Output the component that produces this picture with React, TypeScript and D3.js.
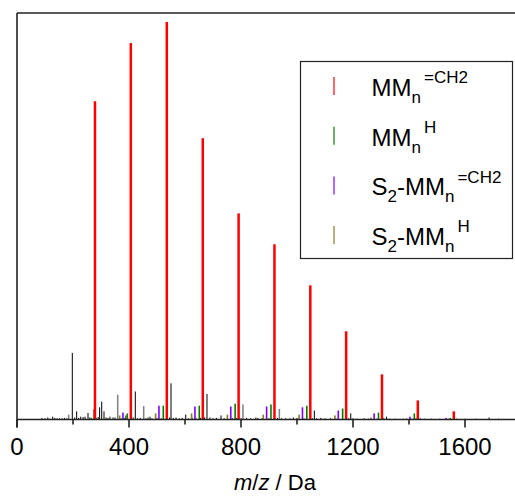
import React from "react";
import * as d3 from "d3";

// Peak series: m/z (Da) and relative intensity (%)
const mmCH2Mz = [278.5, 406.5, 535, 663.5, 791.5, 919.5, 1047.5, 1175.5, 1303.5, 1431.5, 1560];
const mmCH2Int = [78.3, 92.6, 97.8, 69.2, 50.7, 43.1, 33.0, 21.7, 11.1, 4.7, 2.0];

const mmHMz = [266, 394, 522.5, 651, 779, 907, 1035, 1163, 1291, 1419, 1547.5];
const mmHInt = [0.4, 1.5, 3.4, 3.4, 3.9, 3.7, 3.4, 2.7, 1.7, 1.5, 0.4];

const s2CH2Mz = [378.5, 507, 635.5, 763.5, 891.5, 1019.5, 1147.5, 1275.5, 1403.5, 1532];
const s2CH2Int = [1.7, 3.4, 3.2, 3.2, 3.2, 3.0, 2.2, 1.5, 0.7, 0.4];

const s2HMz = [366.5, 495, 623.5, 751.5, 879.5, 1007.5, 1135.5, 1263.5, 1391.5];
const s2HInt = [1.0, 1.5, 1.5, 1.2, 1.2, 1.2, 1.0, 0.5, 0.25];

// Unassigned peaks (black)
const otherMz = [89, 110, 127.5, 143, 161, 197.5, 213, 227.5, 243, 253.6, 295, 302.5, 310.7, 332, 343, 389, 422.5, 475, 550, 568, 602.5, 625, 678.5, 689, 728.6, 853, 987, 1062, 1192, 1320, 1440, 1686];
const otherInt = [0.4, 0.5, 0.7, 0.3, 0.3, 16.4, 2.0, 0.7, 0.7, 1.6, 3.0, 4.4, 2.0, 0.7, 0.5, 1.0, 6.9, 0.7, 8.9, 0.5, 1.2, 0.5, 6.3, 0.5, 1.0, 0.5, 0.5, 2.2, 1.5, 0.7, 0.3, 0.5];

// Unassigned peaks (grey)
const greyMz = [184.6, 274, 359.6, 452.5, 807, 937];
const greyInt = [1.2, 2.5, 6.1, 3.3, 3.7, 2.6];

// Baseline noise
const noiseMz = [100, 118, 135, 152, 170, 178, 206, 220, 236, 260, 283, 290, 318, 325, 350, 372, 385, 415, 430, 440, 460, 468, 482, 500, 515, 545, 558, 580, 590, 612, 640, 655, 670, 700, 712, 740, 770, 785, 800, 820, 835, 860, 875, 900, 930, 945, 960, 975, 1000, 1025, 1055, 1070, 1085, 1100, 1120, 1140, 1185, 1200, 1215, 1240, 1255, 1285, 1310, 1330, 1350, 1380, 1410, 1425, 1455, 1480, 1510, 1540, 1570, 1600, 1640, 1720];
const noiseInt = [0.3, 0.2, 0.4, 0.3, 0.4, 0.3, 0.5, 0.4, 0.6, 0.5, 0.4, 0.6, 0.5, 0.4, 0.5, 0.3, 0.4, 0.5, 0.3, 0.4, 0.3, 0.5, 0.3, 0.4, 0.3, 0.5, 0.4, 0.3, 0.4, 0.3, 0.3, 0.4, 0.5, 0.3, 0.4, 0.3, 0.3, 0.4, 0.3, 0.4, 0.3, 0.4, 0.3, 0.3, 0.4, 0.3, 0.3, 0.3, 0.4, 0.3, 0.3, 0.3, 0.4, 0.3, 0.3, 0.2, 0.3, 0.3, 0.2, 0.3, 0.2, 0.2, 0.3, 0.2, 0.2, 0.2, 0.2, 0.3, 0.2, 0.2, 0.2, 0.2, 0.2, 0.2, 0.2, 0.2];

const xTicks = [0, 400, 800, 1200, 1600];
const xMinorTicks = [200, 600, 1000, 1400, 1800];

type Part = { t?: string; s?: string };
const legendColors = ["#ff0000", "#008000", "#8000ff", "#808020"];
const legendPre: Part[][] = [
  [{ t: "MM" }],
  [{ t: "MM" }],
  [{ t: "S" }, { s: "2" }, { t: "-MM" }],
  [{ t: "S" }, { s: "2" }, { t: "-MM" }],
];
const legendSub = ["n", "n", "n", "n"];
const legendSup = ["=CH2", "H", "=CH2", "H"];

const W = 515;
const H = 497;
const left = 17;
const top = 13;
const bottom = 419.5;

export default function App() {
  const x = d3.scaleLinear().domain([0, 1800]).range([left, left + 1800 * 0.28]);
  const y = d3.scaleLinear().domain([0, 100]).range([bottom, top]);
  const font = "Liberation Sans, Arial, sans-serif";

  const peaks = (mz: number[], ints: number[], color: string, w: number, key: string) =>
    mz.map((m, i) => (
      <rect
        key={key + i}
        x={x(m) - w / 2}
        y={y(ints[i])}
        width={w}
        height={bottom - y(ints[i])}
        fill={color}
      />
    ));

  const renderPre = (parts: Part[]) => {
    const out: React.ReactNode[] = [];
    parts.forEach((p, j) => {
      if (p.t !== undefined) {
        const prevSub = j > 0 && parts[j - 1].s !== undefined;
        out.push(
          <tspan key={j} fontSize={24} dy={prevSub ? -7 : 0}>
            {p.t}
          </tspan>
        );
      } else {
        out.push(
          <tspan key={j} fontSize={17} dy={7}>
            {p.s}
          </tspan>
        );
      }
    });
    return out;
  };

  return (
    <svg width={W} height={H} style={{ position: "absolute", left: 0, top: 0, background: "#fff" }} fontFamily={font}>
      {peaks(noiseMz, noiseInt, "#000", 1, "n")}
      {peaks(greyMz, greyInt, "#808080", 1.5, "g")}
      {peaks(otherMz, otherInt, "#000", 1, "o")}
      {peaks(s2HMz, s2HInt, "#808020", 1.6, "sh")}
      {peaks(s2CH2Mz, s2CH2Int, "#8000ff", 1.6, "sc")}
      {peaks(mmHMz, mmHInt, "#008000", 1.6, "mh")}
      {peaks(mmCH2Mz, mmCH2Int, "#ff0000", 2.5, "mc")}

      {/* frame */}
      <line x1={left} x2={W} y1={top} y2={top} stroke="#222" strokeWidth={1.6} />
      <line x1={left} x2={left} y1={top} y2={bottom + 8} stroke="#222" strokeWidth={1.6} />
      <line x1={left} x2={W} y1={bottom} y2={bottom} stroke="#222" strokeWidth={1.6} />
      {xTicks.map((t) => (
        <g key={"t" + t}>
          <line x1={x(t)} x2={x(t)} y1={bottom} y2={bottom + 8} stroke="#222" strokeWidth={1.6} />
          <text x={x(t)} y={455} fontSize={24} textAnchor="middle" fill="#000">
            {t}
          </text>
        </g>
      ))}
      {xMinorTicks.map((t) => (
        <line key={"m" + t} x1={x(t)} x2={x(t)} y1={bottom} y2={bottom + 5} stroke="#222" strokeWidth={1.6} />
      ))}
      <text x={275} y={490} fontSize={22} textAnchor="middle" fill="#000">
        <tspan fontStyle="italic">m</tspan>/<tspan fontStyle="italic">z</tspan> / Da
      </text>

      {/* legend */}
      <rect x={300.5} y={61.5} width={212} height={197} fill="#fff" stroke="#222" strokeWidth={1.2} />
      {legendColors.map((c, i) => {
        const base = 96 + i * 49.7;
        return (
          <g key={"l" + i}>
            <line x1={334} x2={334} y1={base - 19} y2={base - 1} stroke={c} strokeWidth={1.2} />
            <text x={371.5} y={base} fontSize={24} fill="#000">
              {renderPre(legendPre[i])}
              <tspan fontSize={17} dy={7}>
                {legendSub[i]}
              </tspan>
              <tspan fontSize={17} dy={-19.7} dx={3}>
                {legendSup[i]}
              </tspan>
            </text>
          </g>
        );
      })}
    </svg>
  );
}
